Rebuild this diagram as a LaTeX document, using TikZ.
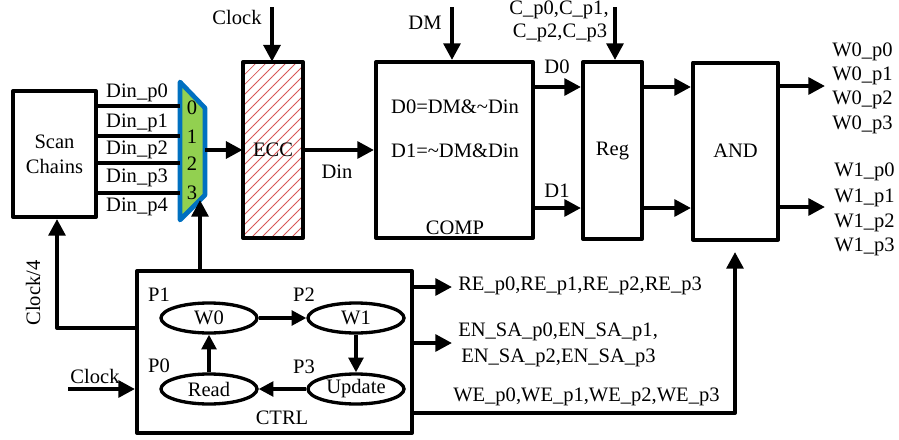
\documentclass[tikz,border=0pt]{standalone}
\usepackage{fontspec}
\setmainfont{Liberation Serif}
\usetikzlibrary{arrows.meta,shapes.geometric,patterns.meta}
\definecolor{muxgreen}{RGB}{146,208,80}
\definecolor{muxblue}{RGB}{0,112,192}
\definecolor{hatchred}{RGB}{215,85,85}
\begin{document}
\begin{tikzpicture}[x=0.75pt,y=-0.75pt,
  font=\fontsize{15.4}{18.5}\selectfont,
  wire/.style={line width=3pt,line join=round},
  arr/.style={line width=3pt,line join=round,-{Triangle[length=12.5pt,width=12.5pt]}},
  thinarr/.style={line width=2.5pt,-{Triangle[length=11pt,width=11pt]}},
  blk/.style={draw,line width=3pt,inner sep=0pt,align=center,line join=round},
  st/.style={draw,ellipse,line width=2.5pt,inner sep=0pt,minimum width=72pt,minimum height=22.5pt},
  lbl/.style={inner sep=0pt},
  lbw/.style={inner sep=0pt,anchor=west}]
\useasboundingbox (0,0) rectangle (899,439);

% ---- blocks
\node[blk,minimum width=83*0.75pt,minimum height=126*0.75pt] (scan) at (54.5,154) {Scan\\Chains};
\node[blk,pattern={Lines[angle=45,distance=5.3pt,line width=0.6pt]},pattern color=hatchred,
      minimum width=60*0.75pt,minimum height=176*0.75pt] (ecc) at (273,150) {ECC};
\node[blk,minimum width=157*0.75pt,minimum height=176*0.75pt] (comp) at (454.5,150) {};
\node[blk,minimum width=59*0.75pt,minimum height=177*0.75pt] (reg) at (612.5,150.5) {Reg};
\node[blk,minimum width=85*0.75pt,minimum height=177*0.75pt] (and) at (735.5,151) {AND};
\node[blk,minimum width=275*0.75pt,minimum height=162*0.75pt] (ctrl) at (274.5,352) {};

% ---- mux
\coordinate (mA) at (180,82);
\coordinate (mB) at (205,108);
\coordinate (mC) at (205,195);
\coordinate (mD) at (180,220);
\draw[line width=3.5pt,draw=muxblue,fill=muxgreen,line join=round] (mA)--(mB)--(mC)--(mD)--cycle;
\node[lbl] (m0) at (192,108) {0};
\node[lbl] (m1) at (192,137) {1};
\node[lbl] (m2) at (192,164) {2};
\node[lbl] (m3) at (192,193) {3};
\coordinate (in0) at (180,106);
\coordinate (in1) at (180,136);
\coordinate (in2) at (180,163);
\coordinate (in3) at (180,193);
\coordinate (mout) at (205,150);
\coordinate (mbot) at (200,200);

% ---- scan -> mux
\draw[wire] (scan.east |- in0) -- (in0);
\draw[wire] (scan.east |- in1) -- (in1);
\draw[wire] (scan.east |- in2) -- (in2);
\draw[wire] (scan.east |- in3) -- (in3);
\node[lbl] (dp0) at (137,93) {Din\_p0};
\node[lbl] (dp1) at (137,123) {Din\_p1};
\node[lbl] (dp2) at (137,150) {Din\_p2};
\node[lbl] (dp3) at (137,178) {Din\_p3};
\node[lbl] (dp4) at (137,207) {Din\_p4};

% ---- mux -> ECC -> COMP
\draw[arr] (mout) -- (ecc);
\coordinate (clkT) at (272,7);
\draw[arr] (clkT) -- (clkT |- ecc.north);
\node[lbl] (clkTl) at (237,17) {Clock};
\draw[arr] (ecc) -- (comp);
\node[lbl] (dinl) at (337,172) {Din};

% ---- COMP contents
\node[lbl] (eq0) at (455,107) {D0=DM\&\textasciitilde Din};
\node[lbl] (eq1) at (455,151) {D1=\textasciitilde DM\&Din};
\node[lbl] (compl) at (455,228) {COMP};
\coordinate (dmT) at (452,7);
\draw[arr] (dmT) -- (dmT |- comp.north);
\node[lbl] (dml) at (425,23) {DM};

% ---- COMP -> Reg
\coordinate (yD0) at (0,87);
\coordinate (yD1) at (0,208);
\draw[arr] (comp.east |- yD0) -- (reg.west |- yD0);
\draw[arr] (comp.east |- yD1) -- (reg.west |- yD1);
\node[lbl] (d0l) at (557,67) {D0};
\node[lbl] (d1l) at (557,191) {D1};
\coordinate (cpT) at (615,7);
\draw[arr] (cpT) -- (cpT |- reg.north);
\node[lbl] (cp1) at (559,10) {C\_p0,C\_p1,};
\node[lbl] (cp2) at (560,33) {C\_p2,C\_p3};

% ---- Reg -> AND -> outputs
\draw[arr] (reg.east |- yD0) -- (and.west |- yD0);
\draw[arr] (reg.east |- yD1) -- (and.west |- yD1);
\coordinate (w0o) at (825,86);
\coordinate (w1o) at (825,207);
\draw[arr] (and.east |- w0o) -- (w0o);
\draw[arr] (and.east |- w1o) -- (w1o);
\node[lbw] (w00) at (832,52) {W0\_p0};
\node[lbw] (w01) at (832,76) {W0\_p1};
\node[lbw] (w02) at (832,100) {W0\_p2};
\node[lbw] (w03) at (832,125) {W0\_p3};
\node[lbw] (w10) at (834,172) {W1\_p0};
\node[lbw] (w11) at (834,198) {W1\_p1};
\node[lbw] (w12) at (834,223) {W1\_p2};
\node[lbw] (w13) at (834,247) {W1\_p3};

% ---- CTRL state machine
\node[st] (sw0) at (209,318) {W0};
\node[st] (sw1) at (356,318) {W1};
\node[st] (srd) at (209,389) {Read};
\node[st] (sup) at (356,389) {Update};
\draw[thinarr] (sw0) -- (sw1);
\draw[thinarr] (sw1) -- (sup);
\draw[thinarr] (sup) -- (srd);
\draw[thinarr] (srd) -- (sw0);
\node[lbl] (p1) at (159,295) {P1};
\node[lbl] (p2) at (304,295) {P2};
\node[lbl] (p0) at (159,366) {P0};
\node[lbl] (p3) at (304,367) {P3};
\node[lbl] (ctrll) at (282,418) {CTRL};

% ---- CTRL connections
\coordinate (clkL) at (68,389);
\draw[arr] (clkL) -- (clkL -| ctrl.west);
\node[lbl] (clkLl) at (95,376) {Clock};
\coordinate (c4) at (57,328);
\draw[arr] (c4 -| ctrl.west) -- (c4) -- (c4 |- scan.south);
\node[lbl,rotate=90] (c4l) at (33,293) {Clock/4};
\draw[arr] (mbot |- ctrl.north) -- (mbot);

\coordinate (reo) at (452,287);
\draw[arr] (reo -| ctrl.east) -- (reo);
\node[lbw] (rel) at (458,286) {RE\_p0,RE\_p1,RE\_p2,RE\_p3};
\coordinate (eno) at (452,343);
\draw[arr] (eno -| ctrl.east) -- (eno);
\node[lbw] (enl1) at (458,332) {EN\_SA\_p0,EN\_SA\_p1,};
\node[lbw] (enl2) at (461,358) {EN\_SA\_p2,EN\_SA\_p3};
\coordinate (weC) at (735,413);
\coordinate (weTip) at (735,252);
\draw[arr] (weC -| ctrl.east) -- (weC) -- (weTip);
\node[lbw] (wel) at (453,397) {WE\_p0,WE\_p1,WE\_p2,WE\_p3};
\end{tikzpicture}
\end{document}
